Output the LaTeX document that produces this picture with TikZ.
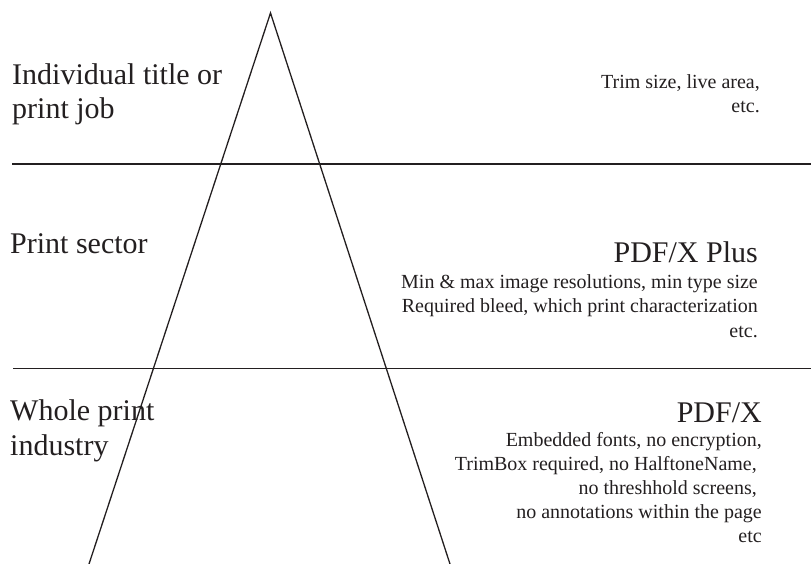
\documentclass[tikz,border=0pt]{standalone}
\usepackage{fontspec}
\setmainfont{Liberation Serif}
\usepackage{tikz}
\usetikzlibrary{calc,positioning}

\definecolor{ink}{HTML}{231F20}

\tikzset{
  level/.style={font=\fontsize{30}{34.5}\selectfont, text=ink, inner sep=0pt, align=left, anchor=base west},
  head/.style={font=\fontsize{30}{34}\selectfont, text=ink, inner sep=0pt, anchor=base east},
  note/.style={font=\fontsize{20}{24.5}\selectfont, text=ink, inner sep=0pt, align=right, anchor=base east},
  rule/.style={draw=ink, line width=1.6pt},
  edge/.style={draw=ink, line width=1.3pt}
}

\begin{document}
\begin{tikzpicture}[x=1pt,y=-1pt]
	\useasboundingbox (0,0) rectangle (811,564);

	% triangle
	\coordinate (apex) at (270.5,13);
	\coordinate (footl) at (89,564);
	\coordinate (footr) at (450,564);
	\draw[edge] (footl) -- (apex) -- (footr);

	% level dividers
	\coordinate (r1a) at (12,164);
	\coordinate (r1b) at (811,164);
	\coordinate (r2a) at (13,368.5);
	\coordinate (r2b) at (811,368.5);
	\draw[rule] (r1a) -- (r1b);
	\draw[rule] (r2a) -- (r2b);

	% left labels (anchored on the last line)
	\node[level] (job) at (12,119) {Individual title or\\print job};
	\node[level] (sector) at (10,254) {Print sector};
	\node[level] (industry) at (10,455) {Whole print\\industry};

	% right notes (anchored on the last line)
	\node[note] (trim) at (760,113) {Trim size, live area,\\etc.};
	\node[head] (plus) at (758,262) {PDF/X Plus};
	\node[note] (plusnote) at (758,337) {Min \& max image resolutions, min type size\\Required bleed, which print characterization\\etc.};
	\node[head] (pdfx) at (762,422) {PDF/X};
	\node[note, font=\fontsize{20}{24}\selectfont] (pdfxnote) at (762,542) {Embedded fonts, no encryption,\\TrimBox required, no HalftoneName,\makebox[0.25em]{}\\no threshhold screens,\makebox[0.25em]{}\\no annotations within the page\\etc};
\end{tikzpicture}
\end{document}
